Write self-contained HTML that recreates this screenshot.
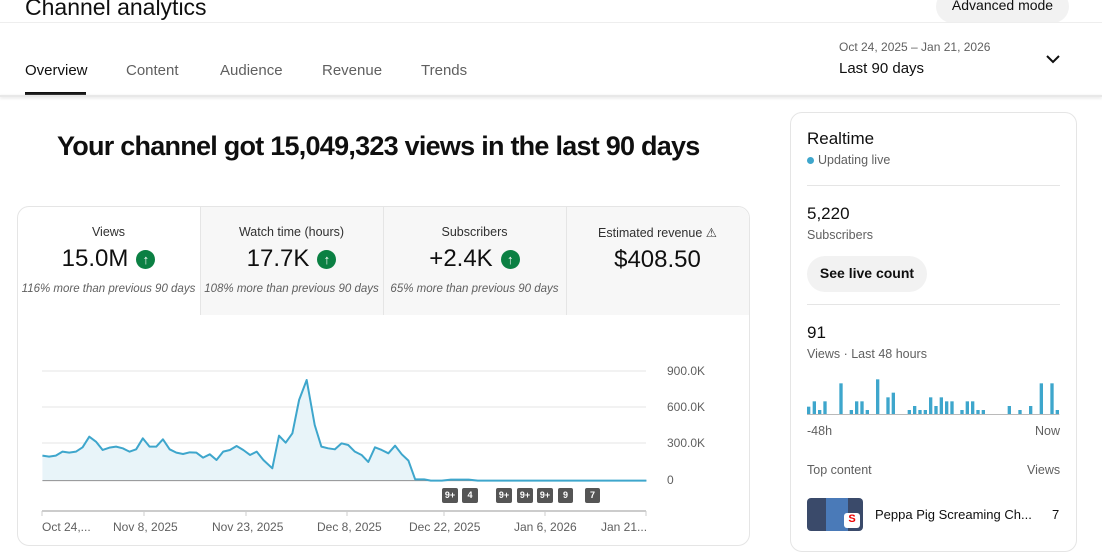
<!DOCTYPE html>
<html><head><meta charset="utf-8"><style>
*{box-sizing:border-box;margin:0;padding:0}
body{width:1102px;height:535px;overflow:hidden;background:#fff;font-family:"Liberation Sans",sans-serif;color:#0f0f0f;position:relative}
.a{position:absolute;white-space:nowrap}
.tab{position:absolute;top:62px;font-size:15px;color:#606060}
.card{position:absolute;border:1px solid #e5e5e5;border-radius:12px}
.mh{position:absolute;top:208px;width:183px;height:106px;text-align:center}
.mh .t{font-size:12.5px;color:#303030;margin-top:17px}
.mh .v{font-size:24px;margin-top:6px;display:flex;justify-content:center;align-items:center;gap:8px}
.up{width:19px;height:19px;border-radius:50%;background:#0b8043;color:#fff;font-size:13px;line-height:19px;text-align:center;font-weight:bold}
.mh .s{font-size:11.5px;color:#606060;font-style:italic;margin-top:10px}
.yl{position:absolute;left:667px;font-size:12px;color:#606060}
.xl{position:absolute;top:520px;font-size:12px;color:#606060}
.bd{position:absolute;top:488px;height:15px;background:#555;color:#fff;font-size:9px;font-weight:bold;line-height:15px;text-align:center;border-radius:2px}
</style></head><body>
<div class="a" style="left:25px;top:-6px;font-size:23px">Channel analytics</div>
<div class="a" style="left:936px;top:-10px;width:133px;height:33px;background:#f2f2f2;border-radius:17px;font-size:14px;text-align:center;line-height:30px">Advanced mode</div>
<div class="a" style="left:0;top:22px;width:1102px;height:1px;background:#eee"></div>
<div class="tab" style="left:25px;color:#0f0f0f">Overview</div>
<div class="a" style="left:25px;top:92px;width:61px;height:3px;background:#0f0f0f"></div>
<div class="tab" style="left:126px">Content</div>
<div class="tab" style="left:220px">Audience</div>
<div class="tab" style="left:322px">Revenue</div>
<div class="tab" style="left:421px">Trends</div>
<div class="a" style="left:839px;top:40px;font-size:12px;color:#606060">Oct 24, 2025 – Jan 21, 2026</div>
<div class="a" style="left:839px;top:60px;font-size:15px">Last 90 days</div>
<svg class="a" style="left:1044px;top:53px" width="18" height="14"><path d="M3 3l6 6 6-6" stroke="#0f0f0f" stroke-width="2" fill="none"/></svg>
<div class="a" style="left:0;top:95px;width:1102px;height:2px;background:#e8e8e8;box-shadow:0 1px 3px #ddd"></div>
<div class="a" style="left:57px;top:131px;font-size:27px;font-weight:bold;letter-spacing:-0.75px">Your channel got 15,049,323 views in the last 90 days</div>

<div class="card" style="left:17px;top:206px;width:733px;height:340px"></div>
<div class="a" style="left:201px;top:207px;width:548px;height:108px;background:#f7f7f7;border-radius:0 12px 0 0"></div>
<div class="a" style="left:200px;top:207px;width:1px;height:108px;background:#e5e5e5"></div>
<div class="a" style="left:383px;top:207px;width:1px;height:108px;background:#e5e5e5"></div>
<div class="a" style="left:566px;top:207px;width:1px;height:108px;background:#e5e5e5"></div>
<div class="mh" style="left:17px"><div class="t">Views</div><div class="v">15.0M<span class="up">↑</span></div><div class="s">116% more than previous 90 days</div></div>
<div class="mh" style="left:200px"><div class="t">Watch time (hours)</div><div class="v">17.7K<span class="up">↑</span></div><div class="s">108% more than previous 90 days</div></div>
<div class="mh" style="left:383px"><div class="t">Subscribers</div><div class="v">+2.4K<span class="up">↑</span></div><div class="s">65% more than previous 90 days</div></div>
<div class="mh" style="left:566px"><div class="t">Estimated revenue &#9888;</div><div class="v">$408.50</div></div>

<svg class="a" style="left:0;top:0" width="760" height="535">
<g stroke="#e6e6e6" stroke-width="1"><line x1="42" y1="371" x2="646" y2="371"/><line x1="42" y1="407" x2="646" y2="407"/><line x1="42" y1="443" x2="646" y2="443"/></g>
<g transform="translate(0,340) scale(0.4464,0.3333)">
<path fill="#e8f4f9" d="M95 422 L95 347 L110 350 L125 347 L140 335 L155 338 L170 335 L185 322 L200 290 L215 305 L230 330 L245 323 L260 320 L275 325 L290 335 L305 328 L320 295 L335 320 L350 320 L365 298 L380 328 L395 338 L410 342 L425 337 L440 338 L455 353 L470 343 L485 360 L500 335 L515 330 L530 318 L545 330 L560 345 L575 335 L590 360 L610 385 L625 287 L640 308 L655 280 L670 180 L687 120 L705 255 L720 320 L735 325 L750 328 L765 310 L780 315 L795 335 L810 345 L825 366 L840 322 L855 330 L870 340 L885 317 L900 343 L915 362 L930 418 L950 418 L965 422 Z"/>
<line x1="95" y1="422" x2="1448" y2="422" stroke="#909090" stroke-width="1" vector-effect="non-scaling-stroke"/>
<path fill="none" stroke="#3ea6cc" stroke-width="2" vector-effect="non-scaling-stroke" stroke-linejoin="round" d="M95 347 L110 350 L125 347 L140 335 L155 338 L170 335 L185 322 L200 290 L215 305 L230 330 L245 323 L260 320 L275 325 L290 335 L305 328 L320 295 L335 320 L350 320 L365 298 L380 328 L395 338 L410 342 L425 337 L440 338 L455 353 L470 343 L485 360 L500 335 L515 330 L530 318 L545 330 L560 345 L575 335 L590 360 L610 385 L625 287 L640 308 L655 280 L670 180 L687 120 L705 255 L720 320 L735 325 L750 328 L765 310 L780 315 L795 335 L810 345 L825 366 L840 322 L855 330 L870 340 L885 317 L900 343 L915 362 L930 418 L950 418 L965 422 L990 422 L1010 419 L1050 419 L1070 422 L1448 422"/>
</g>
<line x1="42" y1="511" x2="646" y2="511" stroke="#ccc" stroke-width="2"/>
<g stroke="#ccc" stroke-width="1"><line x1="42" y1="511" x2="42" y2="516"/><line x1="144" y1="511" x2="144" y2="516"/><line x1="246" y1="511" x2="246" y2="516"/><line x1="347" y1="511" x2="347" y2="516"/><line x1="444" y1="511" x2="444" y2="516"/><line x1="545" y1="511" x2="545" y2="516"/><line x1="646" y1="511" x2="646" y2="516"/></g>
</svg>
<div class="yl" style="top:364px">900.0K</div><div class="yl" style="top:400px">600.0K</div><div class="yl" style="top:436px">300.0K</div><div class="yl" style="top:473px">0</div>
<div class="bd" style="left:442px;width:16px">9+</div><div class="bd" style="left:462px;width:16px">4</div>
<div class="bd" style="left:496px;width:16px">9+</div><div class="bd" style="left:517px;width:16px">9+</div><div class="bd" style="left:537px;width:16px">9+</div><div class="bd" style="left:558px;width:15px">9</div><div class="bd" style="left:585px;width:15px">7</div>
<div class="xl" style="left:42px">Oct 24,...</div><div class="xl" style="left:113px">Nov 8, 2025</div><div class="xl" style="left:212px">Nov 23, 2025</div><div class="xl" style="left:317px">Dec 8, 2025</div><div class="xl" style="left:409px">Dec 22, 2025</div><div class="xl" style="left:514px">Jan 6, 2026</div><div class="xl" style="left:601px">Jan 21...</div>

<div class="card" style="left:790px;top:112px;width:287px;height:440px"></div>
<div class="a" style="left:807px;top:129px;font-size:17px">Realtime</div>
<div class="a" style="left:807px;top:153px;font-size:12.5px;color:#606060"><span style="display:inline-block;width:7px;height:7px;border-radius:50%;background:#3ea6cc;margin-right:4px"></span>Updating live</div>
<div class="a" style="left:807px;top:185px;width:253px;height:1px;background:#e5e5e5"></div>
<div class="a" style="left:807px;top:204px;font-size:17px">5,220</div>
<div class="a" style="left:807px;top:228px;font-size:12.5px;color:#606060">Subscribers</div>
<div class="a" style="left:807px;top:256px;width:120px;height:36px;background:#f2f2f2;border-radius:18px;font-size:14px;font-weight:bold;text-align:center;line-height:35px">See live count</div>
<div class="a" style="left:807px;top:304px;width:253px;height:1px;background:#e5e5e5"></div>
<div class="a" style="left:807px;top:323px;font-size:17px">91</div>
<div class="a" style="left:807px;top:347px;font-size:12.5px;color:#606060">Views · Last 48 hours</div>
<svg class="a" style="left:790px;top:360px" width="290" height="60" viewBox="0 0 870 180">
<g fill="#3ea6cc">
<rect x="51" y="140" width="10" height="23"/><rect x="68" y="124" width="10" height="39"/><rect x="84" y="150" width="10" height="13"/><rect x="100" y="124" width="10" height="39"/><rect x="148" y="70" width="10" height="93"/><rect x="179" y="150" width="10" height="13"/><rect x="195" y="124" width="10" height="39"/><rect x="211" y="124" width="10" height="39"/><rect x="227" y="150" width="10" height="13"/><rect x="258" y="58" width="10" height="105"/><rect x="289" y="112" width="10" height="51"/><rect x="305" y="98" width="10" height="65"/><rect x="353" y="150" width="10" height="13"/><rect x="369" y="138" width="10" height="25"/><rect x="385" y="150" width="10" height="13"/><rect x="401" y="150" width="10" height="13"/><rect x="417" y="112" width="10" height="51"/><rect x="433" y="138" width="10" height="25"/><rect x="449" y="112" width="10" height="51"/><rect x="465" y="124" width="10" height="39"/><rect x="481" y="124" width="10" height="39"/><rect x="511" y="150" width="10" height="13"/><rect x="527" y="124" width="10" height="39"/><rect x="543" y="124" width="10" height="39"/><rect x="559" y="150" width="10" height="13"/><rect x="575" y="150" width="10" height="13"/><rect x="653" y="138" width="10" height="25"/><rect x="685" y="150" width="10" height="13"/><rect x="717" y="138" width="10" height="25"/><rect x="749" y="70" width="10" height="93"/><rect x="781" y="70" width="10" height="93"/><rect x="797" y="150" width="10" height="13"/>
</g><line x1="51" y1="163" x2="808" y2="163" stroke="#909090" stroke-width="2"/></svg>
<div class="a" style="left:807px;top:424px;font-size:12.5px;color:#606060">-48h</div>
<div class="a" style="left:1035px;top:424px;font-size:12.5px;color:#606060">Now</div>
<div class="a" style="left:807px;top:463px;font-size:12.5px;color:#606060">Top content</div>
<div class="a" style="left:1027px;top:463px;font-size:12.5px;color:#606060">Views</div>
<div class="a" style="left:807px;top:498px;width:56px;height:33px;background:#3a4a6a;border-radius:4px;overflow:hidden"><div style="position:absolute;left:19px;top:0;width:22px;height:33px;background:#4a7ab8"></div><div style="position:absolute;left:37px;top:15px;width:16px;height:15px;background:#fff;border-radius:3px;color:#e00;font-size:11px;text-align:center;font-weight:bold">S</div></div>
<div class="a" style="left:875px;top:507px;font-size:13px">Peppa Pig Screaming Ch...</div>
<div class="a" style="left:1052px;top:507px;font-size:13px">7</div>
</body></html>
